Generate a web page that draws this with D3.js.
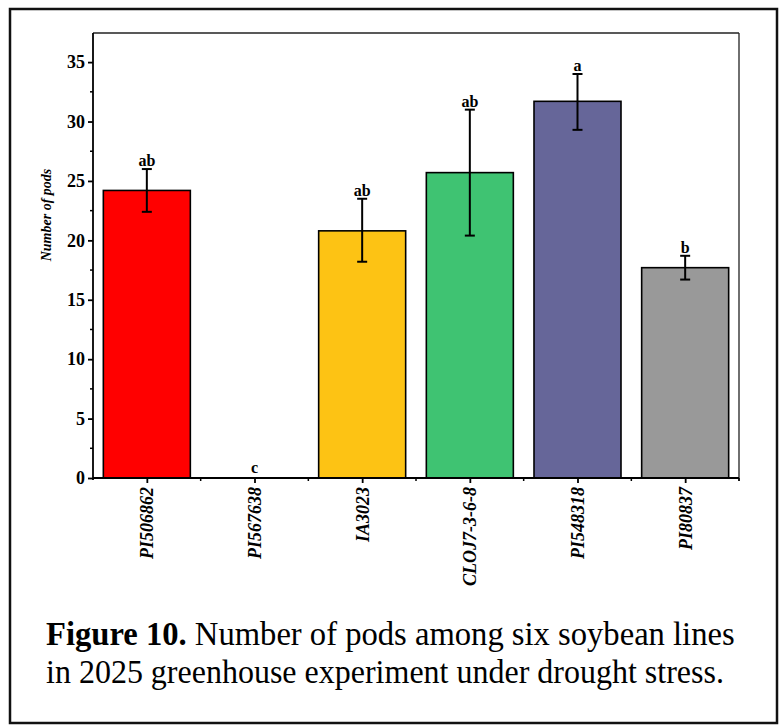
<!DOCTYPE html>
<html>
<head>
<meta charset="utf-8">
<script src="https://cdn.jsdelivr.net/npm/d3@7"></script>
<style>
  body { margin: 0; background: #fff; }
</style>
</head>
<body>
<div id="chart"></div>
<script>
// data
const lines = ["PI506862", "PI567638", "IA3023", "CLOJ7-3-6-8", "PI548318", "PI80837"];
const pods = [24.2, 0, 20.8, 25.7, 31.7, 17.7];
const errHi = [26.0, 0, 23.5, 31.0, 34.0, 18.7];
const errLo = [22.4, 0, 18.2, 20.4, 29.3, 16.7];
const letters = ["ab", "c", "ab", "ab", "a", "b"];
const barColors = ["#ff0000", "#ffffff", "#fdc314", "#3fc372", "#666699", "#999999"];
const yTicks = [0, 5, 10, 15, 20, 25, 30, 35];

const FONT = '"Liberation Serif", "Times New Roman", Tinos, serif';
const W = 779, H = 725;
const margin = { left: 93, top: 33, right: 40, bottom: 247 };
const plotW = W - margin.left - margin.right;
const plotH = H - margin.top - margin.bottom;

const svg = d3.select("#chart")
  .append("svg")
  .attr("width", W)
  .attr("height", H)
  .style("font-family", FONT);

// outer frame
svg.append("rect")
  .attr("x", 10).attr("y", 9)
  .attr("width", 767).attr("height", 714)
  .attr("fill", "none")
  .attr("stroke", "#111")
  .attr("stroke-width", 2.5);

const g = svg.append("g")
  .attr("transform", `translate(${margin.left},${margin.top})`);

const xc = d3.scalePoint().domain(lines).range([0, plotW]).padding(0.5);
const y = d3.scaleLinear().domain([0, 37.45]).range([plotH, 0]);
const barW = 87;

// bars
g.selectAll(".bar")
  .data(lines)
  .enter().append("rect")
  .attr("class", "bar")
  .attr("x", d => xc(d) - barW / 2)
  .attr("width", barW)
  .attr("y", (d, i) => y(pods[i]))
  .attr("height", (d, i) => plotH - y(pods[i]))
  .attr("fill", (d, i) => barColors[i])
  .attr("stroke", "#000")
  .attr("stroke-width", 1.6)
  .style("display", (d, i) => pods[i] > 0 ? null : "none");

// error bars
const eb = g.selectAll(".err")
  .data(lines.filter((d, i) => pods[i] > 0))
  .enter().append("g")
  .attr("class", "err")
  .attr("stroke", "#000")
  .attr("stroke-width", 2);

eb.append("line")
  .attr("x1", d => xc(d)).attr("x2", d => xc(d))
  .attr("y1", d => y(errHi[lines.indexOf(d)]))
  .attr("y2", d => y(errLo[lines.indexOf(d)]));
eb.append("line")
  .attr("x1", d => xc(d) - 5).attr("x2", d => xc(d) + 5)
  .attr("y1", d => y(errHi[lines.indexOf(d)]))
  .attr("y2", d => y(errHi[lines.indexOf(d)]));
eb.append("line")
  .attr("x1", d => xc(d) - 5).attr("x2", d => xc(d) + 5)
  .attr("y1", d => y(errLo[lines.indexOf(d)]))
  .attr("y2", d => y(errLo[lines.indexOf(d)]));

// significance letters
g.selectAll(".letter")
  .data(lines)
  .enter().append("text")
  .attr("class", "letter")
  .attr("x", d => xc(d))
  .attr("y", (d, i) => y(Math.max(errHi[i], pods[i])) - (errHi[i] > 0 ? 3 : 5))
  .attr("text-anchor", "middle")
  .style("font-family", FONT)
  .style("font-size", "16px")
  .style("font-weight", "bold")
  .text((d, i) => letters[i]);

// frame top and right
g.append("line").attr("x1", 0).attr("x2", plotW).attr("y1", 0).attr("y2", 0)
  .attr("stroke", "#222").attr("stroke-width", 1.3);
g.append("line").attr("x1", plotW).attr("x2", plotW).attr("y1", 0).attr("y2", plotH + 3)
  .attr("stroke", "#222").attr("stroke-width", 1.3);

// y axis
const yAxis = g.append("g")
  .call(d3.axisLeft(y).tickValues(yTicks).tickSize(5).tickPadding(3).tickFormat(d3.format("d")));
yAxis.select(".domain").attr("stroke-width", 1.8).attr("d", `M0,${plotH + 2}V0`);
yAxis.selectAll(".tick line").attr("stroke-width", 1.8);
yAxis.selectAll("text")
  .attr("fill", "#000")
  .style("font-family", FONT)
  .style("font-size", "18px")
  .style("font-weight", "bold");

// y minor ticks
g.append("g").selectAll("line")
  .data(d3.range(2.5, 37.5, 5))
  .enter().append("line")
  .attr("x1", -3).attr("x2", 0)
  .attr("y1", d => y(d)).attr("y2", d => y(d))
  .attr("stroke", "#000").attr("stroke-width", 1.5);

// x axis
const xAxis = g.append("g")
  .attr("transform", `translate(0,${plotH})`)
  .call(d3.axisBottom(xc).tickSize(5).tickPadding(4));
xAxis.select(".domain").attr("stroke-width", 1.8).attr("d", `M0,0H${plotW}`);
xAxis.selectAll(".tick line").attr("stroke-width", 1.8);
xAxis.selectAll("text")
  .attr("transform", "rotate(-90)")
  .attr("x", -9)
  .attr("y", 0)
  .attr("dy", "0.33em")
  .attr("text-anchor", "end")
  .attr("fill", "#000")
  .style("font-family", FONT)
  .style("font-size", "18px")
  .style("font-weight", "bold")
  .style("font-style", "italic");

// x minor ticks between categories
const step = plotW / lines.length;
g.append("g").selectAll("line")
  .data(d3.range(1, lines.length + 1))
  .enter().append("line")
  .attr("x1", d => d * step).attr("x2", d => d * step)
  .attr("y1", plotH).attr("y2", plotH + 3)
  .attr("stroke", "#000").attr("stroke-width", 1.5);

// y label
svg.append("text")
  .attr("transform", "translate(51,215) rotate(-90)")
  .attr("text-anchor", "middle")
  .style("font-family", FONT)
  .style("font-size", "14px")
  .style("font-weight", "bold")
  .style("font-style", "italic")
  .text("Number of pods");

// caption, each line squeezed to the width it has in the figure
const cap = svg.append("g")
  .style("font-family", FONT)
  .style("font-size", "33px")
  .attr("fill", "#000");
const l1 = cap.append("text").attr("y", 645);
l1.append("tspan").style("font-weight", "bold").text("Figure 10.");
l1.append("tspan").text(" Number of pods among six soybean lines");
const l2 = cap.append("text").attr("y", 683)
  .text("in 2025 greenhouse experiment under drought stress.");
[[l1, 689], [l2, 678]].forEach(([t, w]) => {
  const sx = w / t.node().getComputedTextLength();
  t.attr("transform", `translate(46,0) scale(${sx},1)`);
});
</script>
</body>
</html>
